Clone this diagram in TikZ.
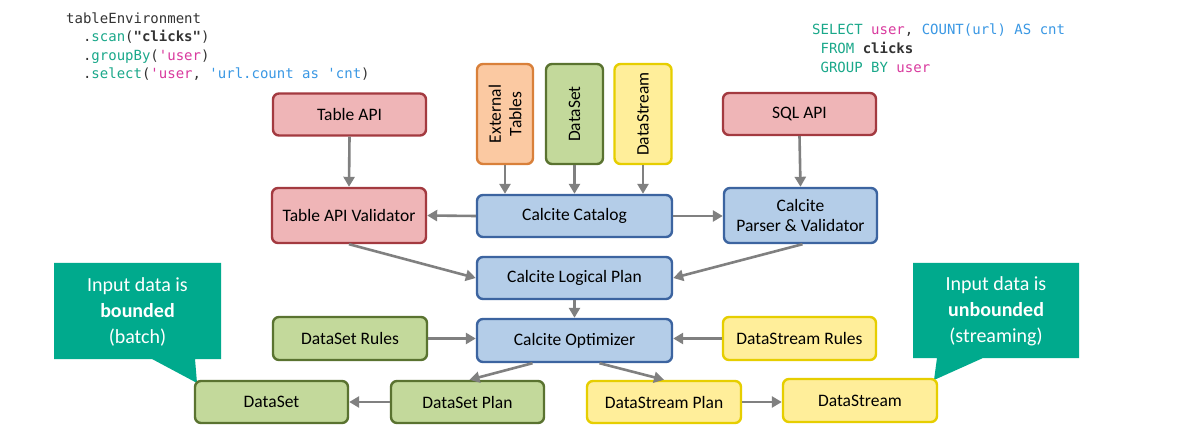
\documentclass[tikz,border=0pt]{standalone}
\usepackage{fontspec}
\setmainfont{Carlito}
\newfontfamily\codefont{DejaVu Sans Mono}[Ligatures=TeXOff]
\usetikzlibrary{arrows.meta}
\definecolor{redfill}{HTML}{EFB5B7}
\definecolor{redline}{HTML}{A33A40}
\definecolor{bluefill}{HTML}{B4CDE8}
\definecolor{blueline}{HTML}{3C64A0}
\definecolor{orfill}{HTML}{FBC9A2}
\definecolor{orline}{HTML}{D9803A}
\definecolor{grfill}{HTML}{C3D99B}
\definecolor{grline}{HTML}{5A7330}
\definecolor{yefill}{HTML}{FFEE9A}
\definecolor{yeline}{HTML}{E6CE00}
\definecolor{teal}{HTML}{00AA8D}
\definecolor{arrgray}{HTML}{808080}
\definecolor{cteal}{HTML}{1AA88A}
\definecolor{cmag}{HTML}{D93A9E}
\definecolor{cblue}{HTML}{3A98E4}
\definecolor{cdark}{HTML}{333333}
\begin{document}
\begin{tikzpicture}[x=1pt,y=-1pt,
  box/.style={draw, rounded corners=6pt, line width=2.4pt, align=center, inner sep=0pt,
    font=\fontsize{17.5}{20.5}\selectfont},
  redb/.style={box, fill=redfill, draw=redline},
  blueb/.style={box, fill=bluefill, draw=blueline},
  orb/.style={box, fill=orfill, draw=orline},
  grb/.style={box, fill=grfill, draw=grline},
  yeb/.style={box, fill=yefill, draw=yeline},
  arr/.style={draw=arrgray, line width=2.6pt, -{Triangle[length=10pt,width=11pt]}},
  code/.style={anchor=base west, inner sep=0pt, font=\codefont\fontsize{14}{16}\selectfont, text=cdark},
  callt/.style={align=center, text=white, inner sep=0pt, font=\fontsize{20}{26}\selectfont},
  callbox/.style={fill=teal, draw=none}
]
\useasboundingbox[fill=white] (0,0) rectangle (1178,438);

% code snippets
\node[code] (c1) at (66,23.3) {tableEnvironment};
\node[code] (c2) at (66,41.8) {\ \ .\textcolor{cteal}{scan}(\textbf{"clicks"})};
\node[code] (c3) at (66,60.3) {\ \ .\textcolor{cteal}{groupBy}(\textcolor{cmag}{'user})};
\node[code] (c4) at (66,78.8) {\ \ .\textcolor{cteal}{select}(\textcolor{cmag}{'user}, \textcolor{cblue}{'url.count as 'cnt})};

\node[code] (s1) at (812,35) {\textcolor{cteal}{SELECT} \textcolor{cmag}{user}, \textcolor{cblue}{COUNT(url) AS cnt}};
\node[code] (s2) at (812,54) {\ \textcolor{cteal}{FROM} \textbf{clicks}};
\node[code] (s3) at (812,72.5) {\ \textcolor{cteal}{GROUP BY} \textcolor{cmag}{user}};

% callouts
\path[callbox] (54,263) -- (221,263) -- (221,359) -- (195,359) -- (197,383) -- (152,359) -- (54,359) -- cycle;
\path[callbox] (913,263) -- (1079,263) -- (1079,358) -- (983,358) -- (934,380) -- (937,358) -- (913,358) -- cycle;
\node[callt] (cl) at (137.5,312) {Input data is\\\textbf{bounded}\\(batch)};
\node[callt] (cr) at (996,311) {Input data is\\\textbf{unbounded}\\(streaming)};

% nodes
\node[redb, minimum width=153pt, minimum height=42pt] (tapi) at (349.5,114.5) {Table API};
\node[orb, rotate=90, minimum width=100pt, minimum height=56pt] (ext) at (505,114) {External\\Tables};
\node[grb, rotate=90, minimum width=100pt, minimum height=57pt] (dstop) at (574.5,114) {DataSet};
\node[yeb, rotate=90, minimum width=100pt, minimum height=57pt] (dsttop) at (643,114) {DataStream};
\node[redb, minimum width=153pt, minimum height=42pt] (sql) at (799.5,114) {SQL API};

\node[redb, minimum width=154pt, minimum height=55pt] (tval) at (349,215.5) {Table API Validator};
\node[blueb, minimum width=195pt, minimum height=42pt] (cat) at (574.5,216) {Calcite Catalog};
\node[blueb, minimum width=153pt, minimum height=55pt] (parser) at (800.5,215.5) {Calcite\\Parser \& Validator};

\node[blueb, minimum width=195pt, minimum height=42pt] (logical) at (574.5,278) {Calcite Logical Plan};

\node[grb, minimum width=154pt, minimum height=43pt] (dsrules) at (350,338.5) {DataSet Rules};
\node[blueb, minimum width=195pt, minimum height=43pt] (opt) at (574.5,340.5) {Calcite Optimizer};
\node[yeb, minimum width=153pt, minimum height=43pt] (dstrules) at (799.5,338.5) {DataStream Rules};

\node[grb, minimum width=153pt, minimum height=42pt] (dsbot) at (271.5,402) {DataSet};
\node[grb, minimum width=153pt, minimum height=42pt] (dsplan) at (467.5,402) {DataSet Plan};
\node[yeb, minimum width=154pt, minimum height=42pt] (dstplan) at (664,402) {DataStream Plan};
\node[yeb, minimum width=154pt, minimum height=43pt] (dstbot) at (860,400.5) {DataStream};

% connectors
\draw[arr] (tapi.south) -- (tval.north);
\draw[arr] (sql.south) -- (parser.north);
\draw[arr] (ext.west) -- (ext.west |- cat.north);
\draw[arr] (dstop.west) -- (dstop.west |- cat.north);
\draw[arr] (dsttop.west) -- (dsttop.west |- cat.north);
\draw[arr] (cat.west) -- (tval.east);
\draw[arr] (cat.east) -- (parser.west |- cat.east);
\draw[arr] (tval.south) -- (logical.west);
\draw[arr] ([xshift=2pt]parser.south) -- (logical.east);
\draw[arr] (logical.south) -- (opt.north);
\draw[arr] (dsrules.east) -- (opt.west |- dsrules.east);
\draw[arr] (dstrules.west) -- (opt.east |- dstrules.west);
\draw[arr] ([xshift=-42pt]opt.south) -- ([xshift=2pt]dsplan.north);
\draw[arr] ([xshift=25pt]opt.south) -- (dstplan.north);
\draw[arr] (dsplan.west) -- (dsbot.east);
\draw[arr] (dstplan.east) -- (dstplan.east -| dstbot.west);
\end{tikzpicture}
\end{document}
